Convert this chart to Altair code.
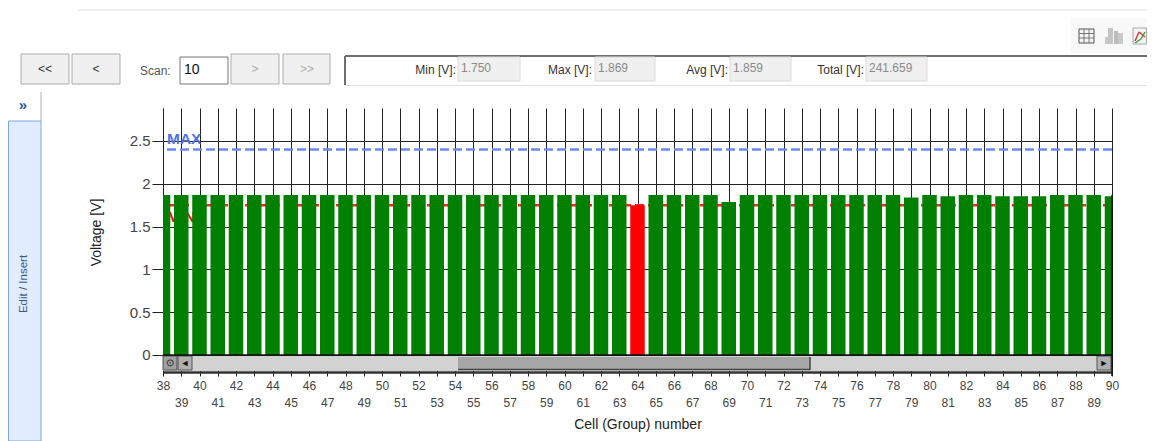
import altair as alt
import pandas as pd

# ---- data ----
cells = list(range(38, 91))
voltages = [1.869] * 53
overrides = {64: 1.750, 69: 1.787, 79: 1.840, 81: 1.855, 84: 1.855, 85: 1.855, 86: 1.855, 90: 1.855}
for c, v in overrides.items():
    voltages[c - 38] = v
max_limit = [2.4]
min_limit = [1.75]
even_ticks = [c for c in cells if c % 2 == 0]
odd_ticks = [c for c in cells if c % 2 == 1]
y_ticks = [0, 0.5, 1, 1.5, 2, 2.5]
stat_labels = ["Min [V]:", "Max [V]:", "Avg [V]:", "Total [V]:"]
stat_values = ["1.750", "1.869", "1.859", "241.659"]
nav_labels = ["<<", "<", ">", ">>"]

# ---- layout ----
OX, OY = 163, 108          # page position of plot origin
W, H = 949, 264
XDOM = [38, 90]
YDOM = [-0.1986, 2.8855]
FONT = "Liberation Sans"
LBL = "#444444"
R = 1147                   # right limit of what can be drawn

df = pd.DataFrame({"cell": cells, "v": voltages, "low": [c == 64 for c in cells]})
df["zero"] = 0

xs = alt.Scale(domain=XDOM, nice=False, zero=False, padding=0)
ys = alt.Scale(domain=YDOM, nice=False, zero=False)


def box(x0, y0, x1, y1, fill, stroke=None, sw=1):
    kw = {"fill": fill}
    if stroke:
        kw.update(stroke=stroke, strokeWidth=sw)
    return alt.Chart(df.head(1)).mark_rect(**kw).encode(
        x=alt.value(x0 - OX), x2=alt.value(x1 - OX), y=alt.value(y0 - OY), y2=alt.value(y1 - OY))


def txt(s, x, y, size=12, color="#333333", align="left", angle=0, weight="normal"):
    return alt.Chart(df.head(1)).mark_text(
        text=s, font=FONT, fontSize=size, color=color, align=align, baseline="middle",
        angle=angle, fontWeight=weight).encode(x=alt.value(x - OX), y=alt.value(y - OY))


def line(x0, y0, x1, y1, color, sw=1):
    return alt.Chart(df.head(1)).mark_rule(color=color, strokeWidth=sw).encode(
        x=alt.value(x0 - OX), x2=alt.value(x1 - OX), y=alt.value(y0 - OY), y2=alt.value(y1 - OY))


axis_common = dict(orient="bottom", labelFont=FONT, labelFontSize=12, labelColor=LBL, tickColor="#222222", tickSize=4,
                   grid=True, gridColor="#222222", gridOpacity=1, gridWidth=1, domain=True,
                   domainColor="#333333", domainWidth=2, labelOverlap=False, labelFlush=False,
                   format="d")

base = alt.Chart(df)

# axes + grid: two axes so that tick labels stagger in two rows
axis_even = base.mark_rule(opacity=0).encode(
    x=alt.X("cell:Q", scale=xs, axis=alt.Axis(values=even_ticks, labelPadding=4, title=None, **axis_common)),
    y=alt.Y("zero:Q", scale=ys, axis=alt.Axis(
        orient="left", format="~g",
        values=y_ticks, title="Voltage [V]", titleFont=FONT, titleFontSize=14, titleFontWeight="normal",
        titleColor="#222222", titlePadding=26, titleY=124, labelFont=FONT, labelFontSize=15, labelColor=LBL,
        labelPadding=2, tickSize=11, tickColor="#222222", grid=True, gridColor="#222222", gridOpacity=1,
        domain=True, domainColor="#222222", labelOverlap=False)),
)
axis_odd = base.mark_rule(opacity=0).encode(
    x=alt.X("cell:Q", scale=xs, axis=alt.Axis(values=odd_ticks, labelPadding=21, title="Cell (Group) number",
                                              titleFont=FONT, titleFontSize=14, titleFontWeight="normal",
                                              titleColor="#222222", titlePadding=9, **axis_common)),
    y=alt.Y("zero:Q", scale=ys, axis=None),
)

limits = pd.DataFrame({"max": max_limit, "min": min_limit})
max_line = alt.Chart(limits).mark_rule(color="#6a8cf0", strokeWidth=2.5, strokeDash=[9, 4]).encode(
    y=alt.Y("max:Q", scale=ys, axis=None))
min_line = alt.Chart(limits).mark_rule(color="#ff2020", strokeWidth=2.5, strokeDash=[9, 4]).encode(
    y=alt.Y("min:Q", scale=ys, axis=None))
max_text = alt.Chart(limits).mark_text(text="MAX", font=FONT, fontSize=15.5, fontWeight="bold", color="#4f72e3",
                                       align="left", baseline="bottom", dx=4, dy=-3).encode(
    x=alt.value(0), y=alt.Y("max:Q", scale=ys, axis=None))
min_text = alt.Chart(limits).mark_text(text="MIN", font=FONT, fontSize=15.5, fontWeight="bold", color="#ff0000",
                                       align="left", baseline="top", dx=4, dy=5).encode(
    x=alt.value(0), y=alt.Y("min:Q", scale=ys, axis=None))

bars = base.mark_bar(size=14.5, clip=True).encode(
    x=alt.X("cell:Q", scale=xs, axis=None),
    y=alt.Y("v:Q", scale=ys, axis=None),
    y2=alt.Y2("zero:Q"),
    color=alt.condition(alt.datum.low, alt.value("#ff0000"), alt.value("#008000")),
)

# scrollbar drawn over the bottom of the plot
scroll = [
    box(163, 356, 1112, 371, "#d2d2d2"),
    box(458, 357, 810, 369, "#a6a6a6"),
    line(458, 369.5, 810, 369.5, "#444444", 1.5),
    line(810, 357, 810, 370, "#444444", 1.5),
    box(163, 356, 177, 370, "#a0a0a0", "#555555"),
    box(178, 356, 192, 370, "#b0b0b0", "#555555"),
    box(1097, 356, 1111, 370, "#b0b0b0", "#555555"),
    txt("\u2299", 170, 363, 10, "#222222", "center"),
    txt("\u25c4", 185, 363, 9, "#111111", "center"),
    txt("\u25ba", 1104, 363, 9, "#111111", "center"),
    line(1112, 195, 1112, 376, "#111111", 1.5),
    line(163, 355, 1112, 355, "#111111", 1.5),
]

# window chrome
chrome = [
    line(78, 10, R, 10, "#dddddd"),
    box(1071, 18, R, 53, "#f8f8f8"),
    box(21, 54, 69, 84, "#f0f0f0", "#adadad"),
    box(72, 54, 120, 84, "#f0f0f0", "#adadad"),
    box(231, 54, 279, 84, "#f0f0f0", "#adadad"),
    box(283, 54, 330, 84, "#f0f0f0", "#adadad"),
    txt(nav_labels[0], 45, 69, 12, "#333333", "center"),
    txt(nav_labels[1], 96, 69, 12, "#333333", "center"),
    txt(nav_labels[2], 255, 69, 12, "#aaaaaa", "center"),
    txt(nav_labels[3], 307, 69, 12, "#aaaaaa", "center"),
    txt("Scan:", 140, 71, 12, "#555555"),
    box(180, 57, 228, 84, "#ffffff", "#777777"),
    txt("10", 184, 70, 14, "#111111"),
    line(345, 56, R, 56, "#6e6e6e", 2),
    line(345, 56, 345, 85, "#6e6e6e", 2),
    line(345, 85.5, R, 85.5, "#e0e0e0"),
    box(458, 57, 520, 81, "#f0f0f0", "#dcdcdc"),
    box(595, 57, 655, 81, "#f0f0f0", "#dcdcdc"),
    box(730, 57, 791, 81, "#f0f0f0", "#dcdcdc"),
    box(866, 57, 927, 81, "#f0f0f0", "#dcdcdc"),
    txt(stat_labels[0], 456, 70, 12, "#333333", "right"),
    txt(stat_labels[1], 592, 70, 12, "#333333", "right"),
    txt(stat_labels[2], 728, 70, 12, "#333333", "right"),
    txt(stat_labels[3], 864, 70, 12, "#333333", "right"),
    txt(stat_values[0], 461, 68, 12, "#8a8a8a"),
    txt(stat_values[1], 598, 68, 12, "#8a8a8a"),
    txt(stat_values[2], 733, 68, 12, "#8a8a8a"),
    txt(stat_values[3], 869, 68, 12, "#8a8a8a"),
    line(41, 92, 41, 121, "#b0b0b0"),
    txt("\u00bb", 23, 105, 15, "#2f5597", "center", weight="bold"),
    box(8.5, 121, 41, 441, "#e0ecff", "#7ea6e0"),
    txt("Edit / Insert", 24, 284, 11.5, "#3a5a8a", "center", angle=270),
    # toolbar icons
    box(1079, 29, 1094, 43, "#f4f4f4", "#555555"),
    line(1079, 33.5, 1094, 33.5, "#777777"),
    line(1079, 38, 1094, 38, "#777777"),
    line(1084, 29, 1084, 43, "#777777"),
    line(1089, 29, 1089, 43, "#777777"),
    box(1105, 37, 1108, 44, "#c8c8c8"),
    box(1108, 28, 1113, 44, "#c4c4c4"),
    box(1114, 31, 1118, 44, "#bcbcbc"),
    box(1118, 33, 1123, 44, "#c8c8c8"),
    box(1133, 28, 1146.5, 44, "#f4f4f4", "#a8a8a8"),
    line(1135, 41, 1139, 32, "#d04040", 1.5),
    line(1139, 32, 1145, 37, "#d04040", 1.5),
    line(1135, 43, 1141, 39, "#40a040", 1.5),
    line(1141, 39, 1145, 32, "#40a040", 1.5),
]

layers = [axis_even, axis_odd, max_line, min_line, min_text, bars, max_text] + scroll + chrome

chart = (
    alt.layer(*layers)
    .resolve_axis(x="independent", y="independent")
    .properties(
        width=W, height=H,
        autosize=alt.AutoSizeParams(type="none"),
        padding={"left": OX - 8, "top": OY - 8, "right": 1139 - (OX - 8) - W, "bottom": 433 - (OY - 8) - H},
        background="#ffffff",
    )
    .configure_view(stroke=None)
)

chart.save("out.html", embed_options={"renderer": "svg", "actions": False})
